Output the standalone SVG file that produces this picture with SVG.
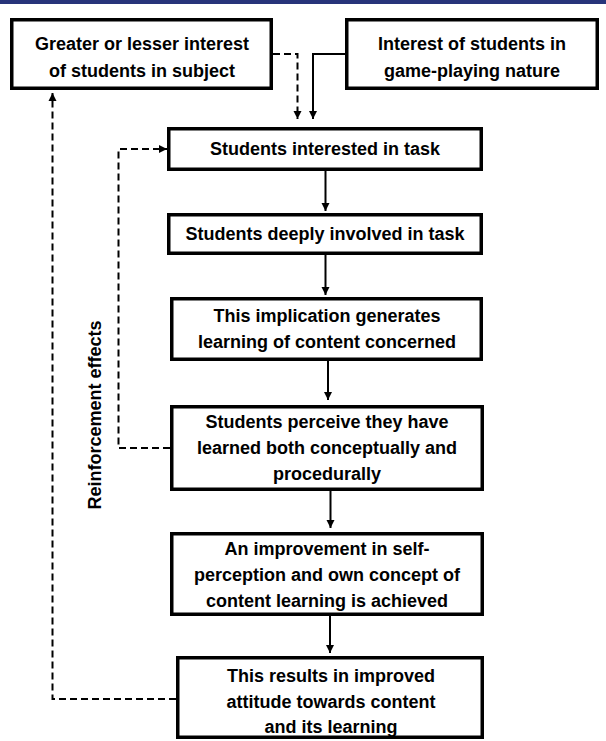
<svg xmlns="http://www.w3.org/2000/svg" width="606" height="741" viewBox="0 0 606 741">
<style>
.box{fill:#fff;stroke:#000;stroke-width:3.5}
.t{font-family:"Liberation Sans",Arial,sans-serif;font-weight:bold;font-size:18px;fill:#000;text-anchor:middle}
.c{fill:none;stroke:#000;stroke-width:2}
.d{stroke-dasharray:7 4}
</style>
<defs>
<marker id="ah" viewBox="0 0 10 10" refX="10" refY="5" markerWidth="8" markerHeight="9" markerUnits="userSpaceOnUse" orient="auto">
<path d="M0,0 L10,5 L0,10 Z" fill="#000"/>
</marker>
</defs>
<rect x="0" y="0" width="606" height="741" fill="#fff"/>
<rect x="0" y="0" width="606" height="4" fill="#27347a"/>
<g id="connectors">
<path class="c d" d="M273,54 H297.5 V119" marker-end="url(#ah)"/>
<path class="c" d="M345,54 H313 V119" marker-end="url(#ah)"/>
<path class="c" d="M325.5,171 V211" marker-end="url(#ah)"/>
<path class="c" d="M325.5,255 V295" marker-end="url(#ah)"/>
<path class="c" d="M328,361 V400" marker-end="url(#ah)"/>
<path class="c" d="M330.5,491 V528" marker-end="url(#ah)"/>
<path class="c" d="M330,616 V653" marker-end="url(#ah)"/>
<path class="c d" d="M170,448 H118.5 V149 H167" marker-end="url(#ah)"/>
<path class="c d" d="M176,699 H52.5 V93" marker-end="url(#ah)"/>
<text class="t" transform="translate(101,415) rotate(-90)" font-size="17.5">Reinforcement effects</text>
</g>
<g id="n1">
<rect class="box" x="11.75" y="19.75" width="259.5" height="68.5"/>
<text class="t" x="142" y="50">Greater or lesser interest</text>
<text class="t" x="142" y="76.5">of students in subject</text>
</g>
<g id="n2">
<rect class="box" x="346.75" y="19.75" width="250.5" height="68.5"/>
<text class="t" x="472" y="50">Interest of students in</text>
<text class="t" x="472" y="76.5">game-playing nature</text>
</g>
<g id="n3">
<rect class="box" x="168.75" y="128.75" width="312.5" height="40.5"/>
<text class="t" x="325" y="155">Students interested in task</text>
</g>
<g id="n4">
<rect class="box" x="168.75" y="214.75" width="312.5" height="38.5"/>
<text class="t" x="325" y="240">Students deeply involved in task</text>
</g>
<g id="n5">
<rect class="box" x="171.75" y="298.75" width="309.5" height="60.5"/>
<text class="t" x="327" y="322">This implication generates</text>
<text class="t" x="327" y="348">learning of content concerned</text>
</g>
<g id="n6">
<rect class="box" x="171.75" y="406.75" width="310.5" height="82.5"/>
<text class="t" x="327" y="428">Students perceive they have</text>
<text class="t" x="327" y="454">learned both conceptually and</text>
<text class="t" x="327" y="480">procedurally</text>
</g>
<g id="n7">
<rect class="box" x="171.75" y="533.75" width="310.5" height="80.5"/>
<text class="t" x="327" y="555">An improvement in self-</text>
<text class="t" x="327" y="581">perception and own concept of</text>
<text class="t" x="327" y="607">content learning is achieved</text>
</g>
<g id="n8">
<rect class="box" x="177.75" y="657.75" width="304.5" height="79.5"/>
<text class="t" x="331" y="682">This results in improved</text>
<text class="t" x="331" y="708">attitude towards content</text>
<text class="t" x="331" y="733">and its learning</text>
</g>
</svg>
